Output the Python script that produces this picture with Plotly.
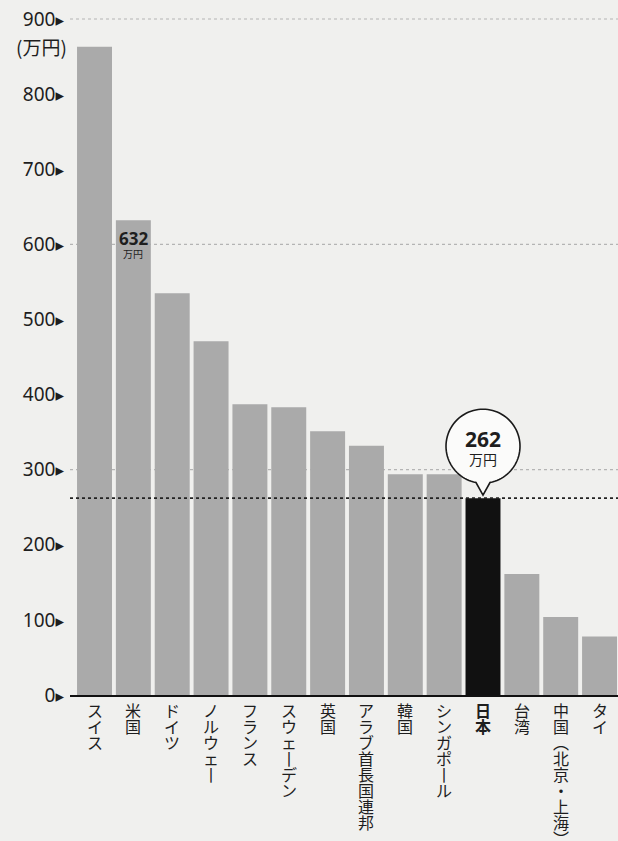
import math
import plotly.graph_objects as go

# ---------------- data ----------------
countries = ["スイス", "米国", "ドイツ", "ノルウェー", "フランス", "スウェーデン", "英国",
             "アラブ首長国連邦", "韓国", "シンガポール", "日本", "台湾", "中国（北京・上海）", "タイ"]
values = [863, 632, 535, 471, 387, 383, 351, 332, 294, 294, 262, 161, 104, 78]
highlight = "日本"
labeled = "米国"
unit = "万円"
axis_unit = "(万円)"
tick_vals = [0, 100, 200, 300, 400, 500, 600, 700, 800, 900]
grid_vals = [300, 600, 900]

# ---------------- style ----------------
BG = "#f0f0ee"
BAR = "#aaaaaa"
DARK = "#111111"
TXT = "#1e1e1e"
JP = "Noto Sans CJK JP"
NUM = "Noto Sans"

xs = list(range(len(countries)))
hi = countries.index(highlight)
lb = countries.index(labeled)
colors = [DARK if c == highlight else BAR for c in countries]

fig = go.Figure(go.Bar(
    x=xs, y=values, marker_color=colors, marker_line_width=0,
    width=0.9, hoverinfo="skip"))

tri = "<span style='font-family:DejaVu Sans;font-size:17px'>▸</span>"
fig.update_layout(
    width=618, height=841,
    margin=dict(l=70, r=0, t=4, b=146),
    paper_bgcolor=BG, plot_bgcolor=BG,
    showlegend=False,
    xaxis=dict(range=[-0.631, 13.475], showgrid=False, zeroline=False,
               showticklabels=False, showline=True, linecolor="#111", linewidth=2,
               ticks=""),
    yaxis=dict(range=[0, 920], showgrid=False, zeroline=False, showline=False,
               tickvals=tick_vals, ticktext=[f"{v}{tri}" for v in tick_vals],
               tickfont=dict(family=NUM, size=19, color=TXT),
               ticks="", ticklabelstandoff=5, automargin=False),
)

shapes = []
for g in grid_vals:
    shapes.append(dict(type="line", xref="paper", x0=0, x1=1, yref="y", y0=g, y1=g,
                       line=dict(color="#b4b4b4", width=1.2, dash="dot"), layer="below"))
# reference line for highlighted value
shapes.append(dict(type="line", xref="paper", x0=0, x1=1, yref="y",
                   y0=values[hi], y1=values[hi],
                   line=dict(color="#222222", width=1.8, dash="dot"), layer="above"))

# speech bubble above the highlighted bar (pixel offsets relative to bar top)
cy, r, hw, tip = 52, 37, 7, 3
jy = cy - math.sqrt(r * r - hw * hw)
thL = math.atan2(jy - cy, -hw)
thR = math.atan2(jy - cy, hw)
span = 2 * math.pi - (thR - thL)
pts = [(0, tip), (-hw, jy)]
n = 90
for k in range(1, n):
    ang = thL - span * k / n
    pts.append((r * math.cos(ang), cy + r * math.sin(ang)))
pts.append((hw, jy))
path = "M " + " L ".join(f"{px:.2f},{py:.2f}" for px, py in pts) + " Z"
shapes.append(dict(type="path", path=path, xsizemode="pixel", ysizemode="pixel",
                   xref="x", yref="y", xanchor=hi, yanchor=values[hi],
                   fillcolor="#fbfbfa", line=dict(color="#1a1a1a", width=1.6),
                   layer="above"))
fig.update_layout(shapes=shapes)

ann = []
# axis unit
ann.append(dict(xref="paper", yref="paper", x=0, y=1, xanchor="right", yanchor="top",
                xshift=-1, yshift=-27, text=axis_unit, showarrow=False,
                font=dict(family=JP, size=19, color=TXT)))
# bubble text
ann.append(dict(x=hi, y=values[hi], xref="x", yref="y", yshift=59, yanchor="middle",
                text=f"<b>{values[hi]}</b>", showarrow=False,
                font=dict(family=NUM, size=21, color=TXT)))
ann.append(dict(x=hi, y=values[hi], xref="x", yref="y", yshift=39, yanchor="middle",
                text=unit, showarrow=False, font=dict(family=JP, size=14, color=TXT)))
# labeled bar value
ann.append(dict(x=lb, y=values[lb], xref="x", yref="y", yshift=-5, yanchor="top",
                text=f"<b>{values[lb]}</b>", showarrow=False,
                font=dict(family=NUM, size=17, color=TXT)))
ann.append(dict(x=lb, y=values[lb], xref="x", yref="y", yshift=-24, yanchor="top",
                text=unit, showarrow=False, font=dict(family=JP, size=10, color=TXT)))

# vertical category labels: one text per label, one glyph per line
vmap = {"ー": "丨", "（": "︵", "）": "︶"}
PITCH = 16
for i, name in enumerate(countries):
    bold = name == highlight
    parts = []
    for ch in name:
        c = vmap.get(ch, ch)
        s = f"<span style='font-size:16px'>{c}</span>"
        parts.append(f"<b>{s}</b>" if bold else s)
    ann.append(dict(x=i, y=0, xref="x", yref="y", yanchor="top", yshift=-1,
                    text="<br>".join(parts), showarrow=False, align="center",
                    font=dict(family=JP, size=PITCH / 1.3, color=TXT)))
fig.update_layout(annotations=ann)

fig.write_html("out.html", post_script="document.body.style.margin='0';",
               config={"displayModeBar": False})
